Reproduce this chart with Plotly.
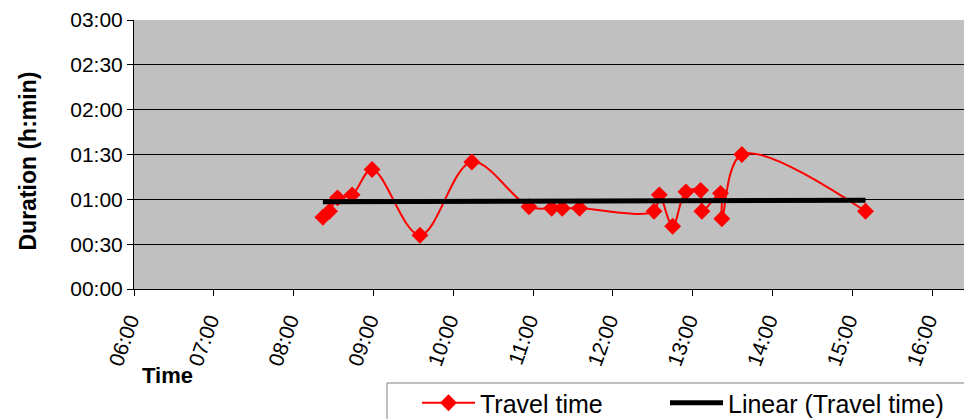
import numpy as np
import plotly.graph_objects as go

# Data
times = ["08:22", "08:27", "08:33", "08:44", "08:59", "09:35", "10:14", "10:57",
         "11:14", "11:22", "11:35", "12:31", "12:35", "12:45", "12:55", "13:06",
         "13:07", "13:21", "13:22", "13:37", "15:10"]
durations_min = [48, 52, 61, 63, 80, 36, 85, 55,
                 54, 54, 54, 52, 63, 42, 65, 66,
                 52, 64, 47, 90, 52]

y_tick_vals = [0, 30, 60, 90, 120, 150, 180]
y_tick_text = ["00:00", "00:30", "01:00", "01:30", "02:00", "02:30", "03:00"]
x_tick_vals = [6, 7, 8, 9, 10, 11, 12, 13, 14, 15, 16]
x_tick_text = ["06:00", "07:00", "08:00", "09:00", "10:00", "11:00",
               "12:00", "13:00", "14:00", "15:00", "16:00"]


def to_hours(s):
    h, m = s.split(":")
    return int(h) + int(m) / 60.0


x = np.array([to_hours(t) for t in times])
y = np.array(durations_min, dtype=float)

# Linear trendline (least squares)
slope, intercept = np.polyfit(x, y, 1)
x_tr = np.array([x.min(), x.max()])
y_tr = slope * x_tr + intercept

FONT = "Liberation Sans, Arial, sans-serif"

fig = go.Figure()
fig.add_trace(go.Scatter(
    x=x, y=y, mode="lines+markers", name="Travel time",
    line=dict(color="#FF0000", width=2, shape="spline", smoothing=1.0),
    marker=dict(symbol="diamond", size=13, color="#FF0000"),
    legend="legend",
))
fig.add_trace(go.Scatter(
    x=x_tr, y=y_tr, mode="lines", name="Linear (Travel time)",
    line=dict(color="#000000", width=5),
    legend="legend2",
))

# page body has an 8px margin: figure occupies 8..972 x 8..419
OFF = 8
W, H = 972 - OFF, 419 - OFF
L, T = 134 - OFF, 20 - OFF
PB = 289 - OFF          # plot bottom in figure px
B = H - PB
plot_w = W - L
plot_h = PB - T


def px_x(xp):
    return (xp - OFF - L) / plot_w


def px_y(yp):
    return (PB - (yp - OFF)) / plot_h


legend_common = dict(
    orientation="h", xanchor="left", yanchor="middle",
    bgcolor="rgba(0,0,0,0)", borderwidth=0,
    font=dict(family=FONT, size=25, color="black"),
    itemwidth=53,
)

fig.update_layout(
    width=W, height=H,
    margin=dict(l=L, r=0, t=T, b=B, autoexpand=False),
    paper_bgcolor="white",
    plot_bgcolor="#C0C0C0",
    font=dict(family=FONT, color="black"),
    showlegend=True,
    legend=dict(x=px_x(417), y=px_y(403), **legend_common),
    legend2=dict(x=px_x(665), y=px_y(403), **legend_common),
    shapes=[
        dict(type="rect", xref="paper", yref="paper",
             x0=px_x(387), x1=1.2, y0=px_y(383), y1=px_y(460),
             line=dict(color="#808080", width=1), fillcolor="white",
             layer="below"),
    ],
    xaxis=dict(
        range=[6, 6 + plot_w / 79.8],
        tickmode="array", tickvals=x_tick_vals, ticktext=x_tick_text,
        tickangle=-70,
        tickfont=dict(family=FONT, size=21, color="black"),
        ticks="outside", ticklen=6, tickcolor="black",
        ticklabelshift=-4, ticklabelstandoff=4,
        showline=True, linecolor="black", linewidth=1,
        showgrid=False, zeroline=False,
    ),
    yaxis=dict(
        range=[0, 180],
        tickmode="array", tickvals=y_tick_vals, ticktext=y_tick_text,
        tickfont=dict(family=FONT, size=21, color="black"),
        ticks="outside", ticklen=6, tickcolor="black",
        showline=True, linecolor="black", linewidth=1,
        showgrid=True, gridcolor="black", gridwidth=1,
        zeroline=False,
    ),
    annotations=[
        dict(text="<b>Duration (h:min)</b>", xref="paper", yref="paper",
             x=px_x(27.5), y=px_y(161), xanchor="center", yanchor="middle",
             textangle=-90, showarrow=False,
             font=dict(family=FONT, size=23, color="black")),
        dict(text="<b>Time</b>", xref="paper", yref="paper",
             x=px_x(140), y=px_y(375),
             xanchor="left", yanchor="middle", showarrow=False,
             font=dict(family=FONT, size=22, color="black")),
    ],
)

fig.write_html("out.html")
